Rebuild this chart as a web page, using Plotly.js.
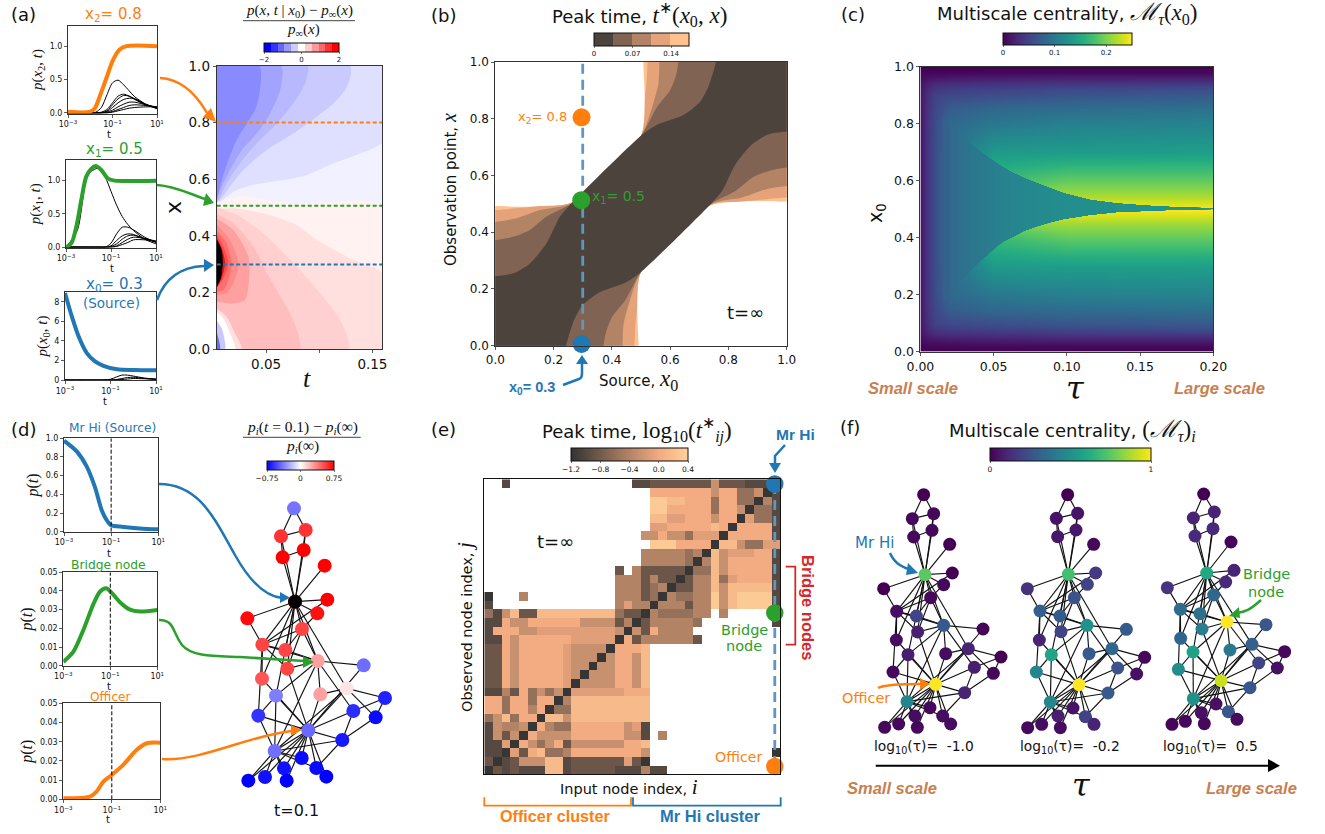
<!DOCTYPE html>
<html><head><meta charset="utf-8">
<script src="https://cdn.plot.ly/plotly-3.0.1.min.js"></script>
<style>html,body{margin:0;padding:0;background:#fff}</style></head>
<body><div id="chart" style="width:1325px;height:834px"></div>
<script>
// ---------- panel (a) line data ----------
const logTA=[-3,-2,-1.75,-1.5,-1.25,-1,-.75,-.5,-.25,0,.5,1];
const logTB=[-3,-2.5,-2,-1.5,-1.25,-1,-.75,-.5,-.25,0,.5,1];
const x2BoldT=[-3,-2.03,-1.8,-1.58,-1.28,-.98,-.68,-.38,1];
const x2Bold=[.015,.015,.065,.24,.515,.79,.95,1,1];
const x2Thin=[[0,0,.01,.08,.27,.45,.49,.42,.33,.24,.13,.06],[0,0,0,.01,.05,.15,.25,.28,.25,.2,.12,.08],[0,0,0,0,.03,.12,.21,.26,.25,.21,.12,.07],[0,0,0,0,.02,.08,.15,.2,.22,.21,.13,.07],[0,0,0,0,.01,.04,.09,.13,.16,.16,.12,.08],[0,0,0,0,0,.02,.05,.08,.11,.12,.11,.09],[0,0,0,0,0,.01,.03,.05,.07,.08,.09,.09]];
const x1BoldT=[-3,-2.76,-2.54,-2.32,-2.1,-1.87,-1.68,-1.43,-1.13,-.84,1];
const x1Bold=[0,.06,.31,.71,1.06,1.18,1.22,1.16,1.03,1,1];
const x1Thin=[[0,.25,1.1,1.19,1.05,.84,.63,.46,.34,.25,.12,.05],[0,0,0,0,0,.06,.2,.3,.3,.26,.15,.07],[0,0,0,0,0,.02,.1,.17,.2,.19,.12,.08],[0,0,0,0,0,.01,.05,.12,.17,.18,.13,.08],[0,0,0,0,0,0,.02,.07,.12,.15,.13,.09],[0,0,0,0,0,0,.01,.04,.07,.11,.11,.09]];
const x0BoldT=[-3,-2.7,-2.4,-2.04,-1.68,-1.31,-.72,0,1];
const x0Bold=[8.9,6.5,4.45,2.75,1.9,1.45,1.1,1.02,1];
const x0Thin=[[0,0,0,0,.01,.08,.3,.5,.5,.4,.2,.08],[0,0,0,0,0,.02,.05,.15,.25,.28,.15,.08],[0,0,0,0,0,0,.02,.05,.1,.15,.13,.08]];
// ---------- panel (a) contour bands: t, x ----------
const blueBands=[
 ['#dfdfff',[.003,.16,.16,.1385,.1134,.0883,.0663,.0381,.0192,.0067,.003],[1,1,.733,.691,.656,.615,.597,.58,.556,.521,.52]],
 ['#cacaff',[.003,.1291,.126,.1134,.0977,.0757,.0506,.0286,.0161,.0051,.003],[1,1,.927,.868,.821,.762,.703,.633,.574,.521,.52]],
 ['#b8b8ff',[.003,.0889,.0867,.0757,.06,.0412,.0255,.0129,.0051,.003],[1,1,.939,.868,.797,.727,.656,.585,.526,.52]],
 ['#a2a2ff',[.003,.0641,.0632,.0538,.0412,.0271,.0161,.0082,.0042,.003],[1,1,.915,.833,.762,.703,.633,.574,.53,.52]],
 ['#8a8aff',[.003,.0437,.0437,.0396,.0318,.0224,.0145,.0082,.0042,.003],[1,1,.903,.845,.797,.739,.668,.597,.538,.52]]];
const redBands=[
 ['#fff2f0',[.003,.0255,.0506,.082,.16,.16,.003],[.515,.541,.526,.512,.506,0,0]],
 ['#ffe0de',[.003,.0192,.0475,.0757,.0977,.1291,.16,.16,.003],[.494,.497,.479,.444,.385,.32,.265,0,0]],
 ['#ffd0cf',[.003,.0255,.0506,.0757,.1009,.1197,.1276,.003],[.503,.468,.397,.303,.197,.102,0,0]],
 ['#ffbdbd',[.003,.0192,.0381,.0475,.06,.0757,.0814,.003],[.479,.444,.362,.291,.208,.102,0,0]],
 ['#ffa0a0',[.003,.0192,.0334,.0334,.0302,.0192,.003],[.462,.42,.326,.22,.173,.161,.167]],
 ['#ff8a8a',[.003,.0161,.0239,.0192,.0129,.003],[.442,.385,.303,.232,.197,.191]],
 ['#ff6e6e',[.003,.0129,.0176,.0145,.0098,.003],[.42,.373,.303,.244,.208,.203]],
 ['#ff4a4a',[.003,.0098,.0145,.0098,.003],[.409,.362,.303,.25,.214]],
 ['#e81010',[.003,.0082,.0114,.0082,.003],[.397,.356,.303,.25,.214]],
 ['#000000',[.003,.0082,.0092,.0074,.003],[.391,.35,.303,.25,.214]],
 ['#ffe0de',[.003,.0129,.0208,.0271,.003],[.144,.114,.055,0,0]],
 ['#ffffff',[.003,.0098,.0161,.0208,.003],[.132,.108,.055,0,0]],
 ['#c8c8ff',[.003,.0082,.0114,.003],[.102,.073,0,0]],
 ['#6a6aff',[.003,.0067,.003],[.067,0,0]]];
const divergeSteps=['#0000ff','#3333ff','#6666ff','#9999ff','#ccccff','#ffffff','#ffcccc','#ff9999','#ff6666','#ff3333','#ff0000'];
// ---------- panel (b) bands: lobe outlines (x0, x) ----------
const copperSteps=['#4c433d','#806352','#b38366','#e6a37a','#ffc28f'];
const leftLobes=[
 [[-.03,0,.062,.119,.176,.222,.262],[.245,.245,.255,.29,.361,.455,.502]],
 [[-.03,0,.062,.119,.176,.262],[.372,.372,.384,.408,.455,.502]],
 [[-.03,0,.073,.153,.262],[.437,.437,.449,.478,.502]],
 [[-.03,0,.153,.262],[.478,.478,.492,.505]],
 [[-.03,0,.262],[.492,.492,.505]]];
const topLobes=[
 [[.5,.554,.645,.703,.731,.748,.757,.757],[.74,.778,.813,.86,.913,.966,1,1.03]],
 [[.5,.554,.6,.622,.628,.628],[.74,.84,.9,.96,1,1.03]],
 [[.5,.542,.56,.563,.563],[.74,.854,.925,1,1.03]],
 [[.5,.514,.52,.522,.522],[.74,.878,.94,1,1.03]],
 [[.5,.508,.508],[.74,1,1.03]]];
// ---------- panel (c) heatmap ----------
const tauCols=[0,.005,.01,.02,.05,.1,.2];
const x0Rows=[0,.02,.04,.06,.08,.1,.15,.2,.3,.4,.45,.5,.55,.6,.7,.8,.85,.9,.92,.94,.96,.98,1];
const centrality=[
[0,0,0,0,0,0,0],[.003,.004,.004,.004,.005,.005,.005],[.008,.012,.014,.016,.018,.02,.02],[.012,.022,.03,.032,.035,.038,.04],
[.014,.03,.04,.045,.05,.055,.06],[.015,.034,.05,.055,.06,.066,.07],[.015,.037,.055,.075,.085,.09,.095],[.015,.038,.058,.085,.1,.108,.112],
[.015,.038,.06,.088,.135,.138,.14],[.015,.038,.06,.088,.17,.19,.19],[.015,.038,.06,.088,.2,.215,.215],[.015,.038,.06,.088,.25,.25,.25],
[.015,.038,.06,.088,.2,.215,.215],[.015,.038,.06,.088,.17,.19,.19],[.015,.038,.06,.088,.135,.138,.14],[.015,.038,.058,.085,.1,.108,.112],
[.015,.037,.055,.075,.085,.09,.095],[.015,.034,.05,.055,.06,.066,.07],[.014,.03,.04,.045,.05,.055,.06],[.012,.022,.03,.032,.035,.038,.04],
[.008,.012,.014,.016,.018,.02,.02],[.003,.004,.004,.004,.005,.005,.005],[0,0,0,0,0,0,0]];
const cuspTau=[.0157,.02,.025,.0294,.034,.04,.0453,.05,.055,.0612,.07,.0794,.0885,.0976,.1158,.134,.1545,.177,.2];
const cuspUpper=[.825,.795,.77,.749,.727,.704,.684,.667,.65,.632,.61,.591,.573,.556,.532,.52,.512,.506,.503];
const cuspLower=[.17,.2,.232,.26,.285,.315,.34,.36,.382,.40,.422,.44,.454,.465,.48,.49,.495,.499,.5];
const cuspColors=['#33638d','#316a8e','#2f6f8e','#2d738e','#2b778e','#2a7a8e','#297d8e','#28808e','#27838e','#26858e','#25888e','#248a8e','#238c8d','#228e8d','#21908d','#20938c','#1f968b'];
// ---------- panel (d) lines ----------
const hiT=[-3,-2.46,-2.04,-1.69,-1.4,-1.19,-1,-.63,.22,1];
const hiP=[.975,.86,.70,.48,.23,.125,.07,.055,.035,.025];
const brT=[-3,-2.57,-2.15,-1.72,-1.44,-1.18,-.94,-.59,-.16,.26,1];
const brP=[.002,.0075,.019,.033,.0396,.0414,.039,.034,.03,.029,.0298];
const ofT=[-3,-1.9,-1.63,-1.35,-1,-.53,.02,.44,1];
const ofP=[.0005,.0014,.004,.0092,.0127,.0179,.0257,.0292,.0295];
// ---------- network ----------
const karateSlot=[6,11,13,10,4,1,2,12,17,15,3,5,8,14,27,28,0,9,31,16,32,7,33,25,20,23,30,22,18,29,21,19,26,24];
const edgeFrom=[0,0,0,0,0,0,0,0,0,0,0,0,0,0,0,0,1,1,1,1,1,1,1,1,2,2,2,2,2,2,2,2,3,3,3,4,4,5,5,5,6,8,8,8,9,13,14,14,15,15,18,18,19,20,20,22,22,23,23,23,23,23,24,24,24,25,26,26,27,28,28,29,29,30,30,31,31,32];
const edgeTo=[1,2,3,4,5,6,7,8,10,11,12,13,17,19,21,31,2,3,7,13,17,19,21,30,3,7,8,9,13,27,28,32,7,12,13,6,10,6,10,16,16,30,32,33,33,33,32,33,32,33,32,33,33,32,33,32,33,25,27,29,32,33,25,27,31,31,29,33,33,31,33,32,33,32,33,32,33,33];
const dX=[882,917,843,911,848,974,885,982,952,742,906,787,856,953,862,1091,786,828,961,1040,1155,775,1060,1127,925,1027,824,905,852,949,979,745,795,860];
const dY=[295,360,379,420,442,467,575,569,610,625,657,704,720,753,776,766,806,857,853,835,864,917,903,922,961,990,1023,1044,1075,1074,1100,1112,1101,1112];
const dVal=[-.41,.6,.6,.75,.75,.75,.75,.75,.7,.72,.55,.55,.55,.28,.55,-.43,.5,-.38,.28,.08,-.65,-.6,-.62,-.72,-.44,-.68,-.42,-.72,-.7,-.72,-.75,-.75,-.7,-.75];
const f1X=[281,311,247,306,251,359,285,367,341,161,302,200,259,341,263,459,199,234,347,415,513,189,433,490,317,404,231,300,255,338,362,164,206,262];
const f1Y=[254,311,326,361,381,403,494,489,524,536,563,604,618,646,666,657,690,734,731,716,741,786,772,790,823,848,875,893,918,918,942,952,942,952];
const f1Val=[0,.02,.02,.02,.02,0,.75,0,.02,0,.02,.03,.2,.28,.08,.01,.03,.08,.03,.1,0,.02,.08,.02,1,.1,.45,.02,.03,.03,.03,.02,.02,.02];
const f2X=[713,743,679,738,683,791,715,797,772,592,733,630,690,771,693,889,628,664,777,846,944,619,863,920,747,834,661,729,684,766,792,593,635,691];
const f2Y=[254,310,325,360,380,403,493,489,523,536,563,603,618,646,665,658,690,734,731,716,742,786,774,792,824,849,876,894,918,920,943,953,943,953];
const f2Val=[0,.05,.05,.06,.06,.02,.7,.17,.2,.14,.25,.3,.28,.5,.2,.28,.1,.58,.28,.33,.02,.45,.25,.04,1,.28,.46,.05,.08,.2,.1,.02,.03,.03];
const f3X=[1121,1153,1090,1149,1095,1203,1130,1212,1187,1012,1151,1051,1110,1191,1116,1308,1052,1089,1200,1266,1364,1045,1286,1342,1173,1260,1090,1158,1114,1195,1221,1026,1066,1123];
const f3Y=[252,306,324,356,378,396,489,481,516,533,555,598,611,636,657,644,685,726,720,703,725,778,759,774,812,833,866,882,908,905,928,943,934,941];
const f3Val=[0,.1,.1,.12,.12,.01,.6,.1,.12,.15,.33,.35,.37,1,.42,.27,.32,.57,.4,.3,.02,.48,.2,.04,.92,.27,.5,.04,.04,.27,.03,.01,.02,.02];
// ---------- panel (e) matrix: level code per cell, '.' = no peak ----------
const peakLevels=[-1.17,-.98,-.85,-.59,-.4,-.27,-.11,.02,.16,.32];
const peakRows=[
"..1..............11222222252221110",
"...................777777757733501",
"...................998877737733041",
"...................997777737750331",
"...................886677757706331",
"...................667777787077771",
"..................5575536660777771",
"...................999777708853366",
"..................4444434085666771",
"..................4444430485777771",
"...............2.42222203385777771",
"...............4442422024483677771",
"...............4442340224485888881",
"0...4..........4442304334495899991",
"1..............4644044424495899991",
"31582288888888832204333344.4.....1",
"1175577777755552402444443........1",
"177755666666666505274444..........",
"1175777777666660724444442.........",
"2275777776555507778...............",
"2275777776555057758...............",
"2275777776550557758...............",
"2275777776505557758...............",
"2275777776055557758...............",
"1142735350666666777...............",
"7737737704888888888...............",
"7737747033888888888...............",
"3583770885888888888...............",
"1544507433777777561...............",
"1525075555777777551.4.............",
"1160753572555555778...............",
"1106278334777777775..............0",
"2012555881222222620...............",
"021211188122222111411............."];
const W=1325,H=834,ORANGE='#ff7f0e',GREEN='#2ca02c',BLUE='#1f77b4',TAN='#c8804f',RED='#d62728';
const layout={width:W,height:H,autosize:false,margin:{l:0,r:0,t:0,b:0,pad:0},showlegend:false,hovermode:false,
 paper_bgcolor:'#fff',plot_bgcolor:'rgba(0,0,0,0)',font:{family:'DejaVu Sans',color:'#111',size:10},annotations:[],shapes:[]};
const traces=[];
const axId=n=>n===1?'':n;
function addAxes(n,x0,x1,y0,y1,xo,yo){
 const base={showgrid:false,zeroline:false,showline:true,mirror:true,linecolor:'#333',linewidth:1,ticks:'outside',ticklen:3,tickwidth:.8,tickcolor:'#333',automargin:false};
 layout['xaxis'+axId(n)]=Object.assign({},base,{domain:[x0/W,x1/W],anchor:'y'+axId(n)},xo);
 layout['yaxis'+axId(n)]=Object.assign({},base,{domain:[1-y1/H,1-y0/H],anchor:'x'+axId(n)},yo);
}
const on=n=>({xaxis:'x'+axId(n),yaxis:'y'+axId(n),hoverinfo:'skip'});
const tenTo=a=>a.map(v=>Math.pow(10,v));
const logAxis=s=>({type:'log',range:[-3,1],tickvals:[.001,.1,10],ticktext:['10<sup>−3</sup>','10<sup>−1</sup>','10<sup>1</sup>'],tickfont:{size:s}});
const M=(s,px)=>'<span style="font-family:Liberation Serif'+(px?';font-size:'+px+'px':'')+'">'+s+'</span>';
const CAL=px=>'<span style="font-size:'+px+'px"><i>ℳ</i></span>';
function T(px,py,text,o){o=o||{};layout.annotations.push({xref:'paper',yref:'paper',x:px/W,y:1-py/H,text:text,showarrow:false,
 xanchor:o.anchor||'center',yanchor:'middle',textangle:o.rot||0,font:{size:o.size||12,color:o.color||'#111',family:o.family||'DejaVu Sans'}});}
const toPaper=s=>s.replace(/(-?[\d.]+)[ ,]+(-?[\d.]+)/g,(m,a,b)=>(a/W).toFixed(5)+','+(1-b/H).toFixed(5));
function S(d,o){o=o||{};layout.shapes.push({type:'path',xref:'paper',yref:'paper',path:toPaper(d),line:{color:o.color||'#000',width:o.fill?0:(o.width||2.5)},fillcolor:o.fill||'rgba(0,0,0,0)'});}
function head(x1,y1,x2,y2,x3,y3,c){S('M'+x1+' '+y1+' L'+x2+' '+y2+' L'+x3+' '+y3+' Z',{fill:c});}
function lineTrace(n,x,y,c,w,extra){traces.push(Object.assign({type:'scatter',mode:'lines',x:x,y:y,line:Object.assign({color:c,width:w,shape:'spline',smoothing:.8},extra||{})},on(n)));}
function band(n,c,x,y,smooth){traces.push(Object.assign({type:'scatter',mode:'lines',x:x,y:y,fill:'toself',fillcolor:c,line:{width:0,color:c,shape:smooth?'spline':'linear',smoothing:.7}},on(n)));}
function stepped(cols){const o=[];cols.forEach((c,i)=>{o.push([i/cols.length,c]);o.push([(i+1)/cols.length,c]);});return o;}
function colorbar(x0,x1,y0,y1,vals,txt,size){return {orientation:'h',x:x0/W,xanchor:'left',y:1-y0/H,yanchor:'top',len:x1-x0,lenmode:'pixels',thickness:y1-y0,thicknessmode:'pixels',xpad:0,ypad:0,outlinewidth:1,outlinecolor:'#111',tickvals:vals,ticktext:txt,ticks:'outside',ticklen:2,tickwidth:.7,tickfont:{size:size||7,color:'#111'}};}

// ===== (a) =====
const pTitle=s=>({text:M(s),font:{size:15},standoff:3});
addAxes(1,68,157,25.5,113.5,logAxis(8),{range:[-.01,1.31],tickvals:[0,.5,1],ticktext:['0.0','0.5','1.0'],tickfont:{size:8},title:pTitle('<i>p</i>(<i>x</i><sub>2</sub>, <i>t</i>)')});
addAxes(2,66,156,160,247.5,logAxis(8),{range:[-.005,1.31],tickvals:[0,.5,1],ticktext:['0.0','0.5','1.0'],tickfont:{size:8},title:pTitle('<i>p</i>(<i>x</i><sub>1</sub>, <i>t</i>)')});
addAxes(3,65,156,292,380,logAxis(8),{range:[0,9],tickvals:[0,2,4,6,8],tickfont:{size:8},title:pTitle('<i>p</i>(<i>x</i><sub>0</sub>, <i>t</i>)')});
[[109,134.5],[111.5,268],[105,401],[109,553],[109,686],[108,819]].forEach(p=>T(p[0],p[1],'t',{size:10}));
x2Thin.forEach(c=>lineTrace(1,tenTo(logTA),c,'#000',1));
x1Thin.forEach(c=>lineTrace(2,tenTo(logTB),c,'#000',1));
x0Thin.forEach(c=>lineTrace(3,tenTo(logTB),c,'#000',1));
lineTrace(1,tenTo(x2BoldT),x2Bold,ORANGE,4);
lineTrace(2,tenTo(x1BoldT),x1Bold,GREEN,4);
lineTrace(3,tenTo(x0BoldT),x0Bold,BLUE,4);
addAxes(4,216.7,382,66,349,{range:[.0035,.159],tickvals:[.05,.1,.15],ticktext:['0.05','','0.15'],tickfont:{size:13.5}},
 {range:[0,1],tickvals:[0,.2,.4,.6,.8,1],ticktext:['0.0','0.2','0.4','0.6','0.8','1.0'],tickfont:{size:13.5},title:{text:'x',font:{size:22},standoff:0}});
band(4,'#f1f1ff',[.003,.16,.16,.003],[.5,.5,1,1]);
blueBands.forEach(b=>band(4,b[0],b[1],b[2],true));
redBands.forEach(b=>band(4,b[0],b[1],b[2],true));
[[.8,ORANGE],[.506,GREEN],[.299,BLUE]].forEach(d=>lineTrace(4,[.0035,.159],[d[0],d[0]],d[1],2,{dash:'4px,2.5px',shape:'linear'}));
traces.push(Object.assign({type:'scatter',mode:'markers',x:[-1],y:[-1],marker:{size:1,opacity:0,color:[0],cmin:-2,cmax:2,colorscale:stepped(divergeSteps),showscale:true,colorbar:colorbar(264,339,43,52,[-2,0,2],['−2','0','2'],7)}},on(4)));
T(9,14,'(a)',{size:18,anchor:'left'});
T(113,14,'x<sub>2</sub>= 0.8',{size:15,color:ORANGE});
T(114,149,'x<sub>1</sub>= 0.5',{size:15,color:GREEN});
T(114,284,'x<sub>0</sub>= 0.3',{size:15,color:BLUE});
T(111,303,'(Source)',{size:13.5,color:BLUE});
T(307,378,M('<i>t</i>'),{size:26});
T(299,11,M('<i>p</i>(<i>x</i>, <i>t</i> | <i>x</i><sub>0</sub>) − <i>p</i><sub>∞</sub>(<i>x</i>)'),{size:15});
S('M243 20.7 L355 20.7',{color:'#111',width:.8});
T(303,30,M('<i>p</i><sub>∞</sub>(<i>x</i>)'),{size:15});
S('M160 78 C180 79 195 92 207 113',{color:ORANGE});head(216,122,203,117,211,108,ORANGE);
S('M157 185 C175 186 190 194 205 199',{color:GREEN});head(214,203,203,206,206,193,GREEN);
S('M157 300 C165 278 180 267 204 266',{color:BLUE});head(214,265,204,259,204,272,BLUE);

// ===== (b) =====
const bFrac=.0345;
addAxes(5,495.3,786.7,62,345.7,{range:[0,1],tickvals:[0,.2,.4,.6,.8,1],ticktext:['0.0','0.2','0.4','0.6','0.8','1.0'],tickfont:{size:12}},{range:[0,1],tickvals:[0,.2,.4,.6,.8,1],ticktext:['0.0','0.2','0.4','0.6','0.8','1.0'],tickfont:{size:12}});
for(let k=4;k>=0;k--){
 const lx=leftLobes[k][0],ly=leftLobes[k][1],tx=topLobes[k][0],ty=topLobes[k][1];
 const mirror=a=>a.map(v=>1-v);
 const px=[-.05].concat(lx,tx,[1.05],mirror(lx),mirror(tx));
 const py=[-.05].concat(ly,ty,[1.05],mirror(ly),mirror(ty));
 band(5,copperSteps[k],px,py,true);
}
lineTrace(5,[.3,.3],[0,1],'#5f97bd',2.8,{dash:'10px,6px',shape:'linear'});
traces.push(Object.assign({type:'scatter',mode:'markers',x:[.296,.295,.296],y:[.805,.513,.006],cliponaxis:false,marker:{size:18,opacity:1,line:{width:0},color:[ORANGE,GREEN,BLUE]}},on(5)));
traces.push(Object.assign({type:'scatter',mode:'markers',x:[-1],y:[-1],marker:{size:1,opacity:0,color:[0],cmin:0,cmax:5*bFrac,colorscale:stepped(copperSteps),showscale:true,colorbar:colorbar(594,689,33,46,[0,.07,.14],['0','0.07','0.14'],7)}},on(5)));
T(443,15,'(b)',{size:18});
T(639,14,'Peak time, '+M('<i>t</i><sup>∗</sup>(<i>x</i><sub>0</sub>, <i>x</i>)',23),{size:18});
T(638,380,'Source, '+M('<i>x</i><sub>0</sub>',23),{size:15});
T(449,190,'Observation point, '+M('<i>x</i>',20),{size:15,rot:-90});
T(542,117,'x<sub>2</sub>= 0.8',{size:13,color:ORANGE});
T(618,197,'x<sub>1</sub>= 0.5',{size:14,color:GREEN});
T(745,312,'t=∞',{size:18});
T(532,388,'<b>x<sub>0</sub>= 0.3</b>',{size:14.5,color:BLUE,family:'Liberation Sans'});
S('M563 385 L579 379 Q582 378 582 374 L582 362',{color:BLUE});head(582,355,576,364,588,364,BLUE);

// ===== (c) =====
addAxes(6,920.4,1213.3,66.5,351.7,{range:[0,.2],tickvals:[0,.05,.1,.15,.2],ticktext:['0.00','0.05','0.10','0.15','0.20'],tickfont:{size:12.5}},
 {range:[0,1],tickvals:[0,.2,.4,.6,.8,1],ticktext:['0.0','0.2','0.4','0.6','0.8','1.0'],tickfont:{size:12.5}});
traces.push(Object.assign({type:'heatmap',x:tauCols,y:x0Rows,z:centrality,zmin:0,zmax:.25,zsmooth:'best',colorscale:'Viridis',colorbar:colorbar(1003,1132,32.7,45,[0,.1,.2],['0','0.1','0.2'],7)},on(6)));
cuspColors.forEach((c,k)=>{
 const tx=cuspTau.slice(k),up=cuspUpper.slice(k),lo=cuspLower.slice(k);
 band(6,c,tx.concat(tx.slice().reverse()),up.concat(lo.slice().reverse()),false);
});
lineTrace(6,[.16,.2],[.502,.502],'#1f968b',1.2,{shape:'linear'});
T(853,14,'(c)',{size:18});
T(1067,13,'Multiscale centrality, '+M(CAL(24)+'<sub><i>τ</i></sub>(<i>x</i><sub>0</sub>)',23),{size:18});
T(877,213,'x<sub>0</sub>',{size:19,rot:-90});
T(1075,388,'<i>τ</i>',{size:32,family:'DejaVu Serif'});
T(913,388,'<b><i>Small scale</i></b>',{size:16.5,color:TAN,family:'Liberation Sans'});
T(1219,388,'<b><i>Large scale</i></b>',{size:16.5,color:TAN,family:'Liberation Sans'});

// ===== (d) =====
const dTickY=(r,v,t)=>({range:r,tickvals:v,ticktext:t,tickfont:{size:8},title:{text:M('<i>p</i>(<i>t</i>)'),font:{size:16},standoff:3}});
addAxes(7,64,158.3,438.3,531.7,logAxis(8),dTickY([0,1],[0,.2,.4,.6,.8,1],['0.0','0.2','0.4','0.6','0.8','1.0']));
addAxes(8,63.3,157.3,572.3,665.7,logAxis(8),dTickY([0,.05],[0,.01,.02,.03,.04,.05],['0.00','0.01','0.02','0.03','0.04','0.05']));
addAxes(9,63.3,160.3,703.3,799.3,logAxis(8),dTickY([0,.05],[0,.01,.02,.03,.04,.05],['0.00','0.01','0.02','0.03','0.04','0.05']));
lineTrace(7,tenTo(hiT),hiP,BLUE,4);lineTrace(8,tenTo(brT),brP,GREEN,4);lineTrace(9,tenTo(ofT),ofP,ORANGE,4);
[[7,1],[8,.05],[9,.05]].forEach(d=>lineTrace(d[0],[.1,.1],[0,d[1]],'#000',1,{dash:'4px,2px',shape:'linear'}));
function network(n,X,Y,V,size,scale,cb,cmin,cmax){
 const ex=[],ey=[];
 edgeFrom.forEach((a,i)=>{const p=karateSlot[a],q=karateSlot[edgeTo[i]];ex.push(X[p],X[q],null);ey.push(Y[p],Y[q],null);});
 traces.push(Object.assign({type:'scatter',mode:'lines',x:ex,y:ey,line:{color:'#111',width:1.15}},on(n)));
 const m={size:size,color:V,cmin:cmin,cmax:cmax,colorscale:scale,opacity:1,line:{width:0}};
 if(cb){m.showscale=true;m.colorbar=cb;}
 traces.push(Object.assign({type:'scatter',mode:'markers',x:X,y:Y,marker:m},on(n)));
}
const hidden={visible:false,fixedrange:true};
addAxes(10,0,420,410,830,Object.assign({range:[0,1260]},hidden),Object.assign({range:[1260,0]},hidden));
network(10,dX,dY,dVal,14,[[0,'#0000ff'],[.5,'#ffffff'],[1,'#ff0000']],colorbar(267,334,460.7,470,[-.75,0,.75],['−0.75','0','0.75'],7.5),-.75,.75);
traces.push(Object.assign({type:'scatter',mode:'markers',x:[dX[6]],y:[dY[6]],marker:{size:14,color:'#000'}},on(10)));
T(9,429,'(d)',{size:18,anchor:'left'});
T(112,428,'Mr Hi (Source)',{size:12.2,color:BLUE});
T(108,565,'Bridge node',{size:12.3,color:GREEN});
T(111,697,'Officer',{size:12.2,color:ORANGE});
T(302,427,M('<i>p</i><sub><i>i</i></sub>(<i>t</i> = 0.1) − <i>p</i><sub><i>i</i></sub>(∞)'),{size:15.5});
S('M243 437.3 L360.7 437.3',{color:'#111',width:.8});
T(302,446,M('<i>p</i><sub><i>i</i></sub>(∞)'),{size:15.5});
T(296,810,'t=0.1',{size:16});
S('M159 484 C200 484 215 520 235 555 C250 582 265 596 282 598',{color:BLUE});head(290,597.7,280,592,280,603,BLUE);
S('M159 620 C175 620 172 632 182 645 C192 657 215 656 240 657 L304 661',{color:GREEN});head(314,662,303,656,303,668,GREEN);
S('M162 759 C200 762 250 735 292 731',{color:ORANGE});head(302,730,291,725,291,736,ORANGE);

// ===== (e) =====
const peakZ=peakRows.map(r=>r.split('').map(ch=>ch==='.'?null:peakLevels[+ch]));
addAxes(11,484.3,780,479.3,774.3,{range:[-.5,33.5],showticklabels:false,ticks:'',linecolor:'#111'},{range:[33.5,-.5],showticklabels:false,ticks:'',linecolor:'#111'});
traces.push(Object.assign({type:'heatmap',z:peakZ,zmin:-1.2,zmax:.4,hoverongaps:false,colorscale:[[0,'#333333'],[.25,'#735b4c'],[.5,'#b38366'],[.75,'#f2aa80'],[1,'#ffd299']],colorbar:colorbar(571,688,447.7,461,[-1.2,-.8,-.4,0,.4],['−1.2','−0.8','−0.4','0.0','0.4'],7.5)},on(11)));
lineTrace(11,[32.9,32.9],[.04,32.6],'#5f97bd',2.8,{dash:'10px,6px',shape:'linear'});
traces.push(Object.assign({type:'scatter',mode:'markers',x:[32.9,32.9,32.9],y:[.04,14.9,32.6],cliponaxis:false,marker:{size:17.5,opacity:1,line:{width:0},color:[BLUE,GREEN,ORANGE]}},on(11)));
T(443,429,'(e)',{size:18});
T(637,430,'Peak time, '+M('log<sub>10</sub>(<i>t</i><sup>∗</sup><sub><i>ij</i></sub>)',23),{size:18});
T(629,787,'Input node index, '+M('<i>i</i>',21),{size:14.5});
T(465,627,'Observed node index, '+M('<i>j</i>',21),{size:14.5,rot:-90});
T(555,541,'t=∞',{size:18});
T(795,434,'<b>Mr Hi</b>',{size:15.5,color:BLUE,family:'Liberation Sans'});
T(744,630,'Bridge',{size:14.5,color:GREEN});T(744,646,'node',{size:14.5,color:GREEN});
T(738,757,'Officer',{size:14.2,color:ORANGE});
T(808,607,'<b>Bridge nodes</b>',{size:16.5,color:RED,rot:90,family:'Liberation Sans'});
S('M785.7 566.7 L795.3 566.7 L795.3 644.7 L785.7 644.7',{color:RED,width:1.8});
S('M484.3 797.3 L484.3 805.7 L631 805.7 L631 797.3',{color:ORANGE,width:1.8});
S('M633 797.3 L633 805.7 L780.7 805.7 L780.7 797.3',{color:BLUE,width:1.8});
T(555,815.7,'<b>Officer cluster</b>',{size:16.2,color:ORANGE,family:'Liberation Sans'});
T(710,815.7,'<b>Mr Hi cluster</b>',{size:16.5,color:BLUE,family:'Liberation Sans'});
S('M785 445 L775 456 L775 464',{color:BLUE});head(775,473,769,463,781,463,BLUE);

// ===== (f) =====
addAxes(12,830,1320,410,830,Object.assign({range:[0,1470]},hidden),Object.assign({range:[1260,0]},hidden));
network(12,f1X,f1Y,f1Val,13,'Viridis',colorbar(990,1151,447.7,461,[0,1],['0','1'],7.5),0,1);
network(12,f2X,f2Y,f2Val,13,'Viridis',null,0,1);
network(12,f3X,f3Y,f3Val,13,'Viridis',null,0,1);
T(850,427,'(f)',{size:18});
T(1072,430.7,'Multiscale centrality, '+M('('+CAL(24)+'<sub><i>τ</i></sub>)<sub><i>i</i></sub>',23),{size:18});
T(874,543,'Mr Hi',{size:15,color:BLUE});
T(866,698,'Officer',{size:14.5,color:ORANGE});
T(1266,574,'Bridge',{size:14.5,color:GREEN});T(1266,592,'node',{size:14.5,color:GREEN});
S('M890 553 C895 565 905 568 911 570',{color:BLUE});head(918,573,908,563,906,575,BLUE);
S('M878 688 C885 684 905 684 921 684',{color:ORANGE});head(930,684,920,678,920,690,ORANGE);
S('M1261 600 C1250 610 1245 612 1237 613',{color:GREEN});head(1229,616,1239,607,1240,618,GREEN);
T(924,747,'log<sub>10</sub>(τ)=  -1.0',{size:13.8});
T(1070,747,'log<sub>10</sub>(τ)=  -0.2',{size:13.8});
T(1210.7,747,'log<sub>10</sub>(τ)=  0.5',{size:13.8});
S('M875.7 765.7 L1270 765.7',{color:'#000',width:2});head(1280,765.7,1268,759,1268,772,'#000');
T(1081.7,785,'<i>τ</i>',{size:32,family:'DejaVu Serif'});
T(891.7,788,'<b><i>Small scale</i></b>',{size:16.5,color:TAN,family:'Liberation Sans'});
T(1251.7,788,'<b><i>Large scale</i></b>',{size:16.5,color:TAN,family:'Liberation Sans'});

Plotly.newPlot('chart',traces,layout,{displayModeBar:false,staticPlot:true});
</script></body></html>
